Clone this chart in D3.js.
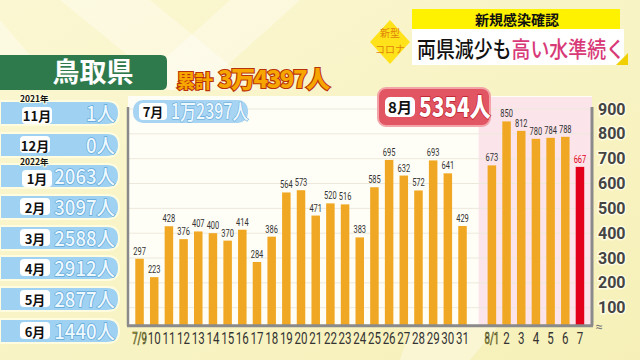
<!DOCTYPE html>
<html><head><meta charset="utf-8">
<script src="https://cdn.jsdelivr.net/npm/d3@7"></script>
<style>html,body{margin:0;padding:0;background:#f8f3c2;}svg{display:block;}</style>
</head><body>
<svg id="c" width="640" height="360"></svg>
<script>
// ---- data ----
const julyDates = ["7/9","10","11","12","13","14","15","16","17","18","19","20","21","22","23","24","25","26","27","28","29","30","31"];
const julyValues = [297,223,428,376,407,400,370,414,284,386,564,573,471,520,516,383,585,695,632,572,693,641,429];
const augDates = ["8/1","2","3","4","5","6","7"];
const augValues = [673,850,812,780,784,788,667];
const yTicks = [100,200,300,400,500,600,700,800,900];
const monthLabels = ["11月","12月","1月","2月","3月","4月","5月","6月"];
const monthTotals = ["1人","0人","2063人","3097人","2588人","2912人","2877人","1440人"];
const yearLabels = ["2021年","","2022年","","","","",""];
const prefName = "鳥取県";
const cumLabel = "累計";
const cumTotal = "3万4397人";
const julyTotal = "1万2397人";
const augTotal = "5354人";
const titleTop = "新規感染確認";
const titleA = "両県減少も";
const titleB = "高い水準続く";

const JP = "'Noto Sans CJK JP','Noto Sans',sans-serif";
const NUM = "Roboto,'Noto Sans',sans-serif";
const svg = d3.select("#c");

// background
const defs = svg.append("defs");
const g0 = defs.append("linearGradient").attr("id","bg").attr("x1",0).attr("y1",0).attr("x2",1).attr("y2",1);
g0.append("stop").attr("offset","0%").attr("stop-color","#fbf7d2");
g0.append("stop").attr("offset","100%").attr("stop-color","#f6f0b8");
svg.append("rect").attr("width",640).attr("height",360).attr("fill","url(#bg)");
[[ [60,0],[150,0],[260,90],[170,90] ],[ [230,0],[300,0],[200,90],[130,90] ],[ [0,20],[60,90],[0,90] ],[ [420,300],[520,300],[470,360],[400,360] ]].forEach(p=>{
  svg.append("polygon").attr("points",p.map(d=>d.join(",")).join(" ")).attr("fill","#ffffff").attr("opacity",0.35);
});

// ---- chart ----
const allDates = julyDates.concat(["gap"], augDates);
const x = d3.scaleBand().domain(allDates).range([132.2, 587.3]).paddingInner(0.42).paddingOuter(0.21);
const y = d3.scaleLinear().domain([27.5, 900]).range([325.7, 109]);
const left = 128, right = 592, base = y(27.5);

// panel
svg.append("rect").attr("x",left).attr("y",96).attr("width",right-left).attr("height",base-96).attr("fill","#fffef6");
svg.append("rect").attr("x",x("8/1")-9).attr("y",97).attr("width",right-(x("8/1")-9)).attr("height",base-97).attr("fill","#fbe4ea");
// gridlines
svg.append("g").selectAll("line").data(yTicks).join("line")
  .attr("x1",left).attr("x2",right).attr("y1",d=>y(d)).attr("y2",d=>y(d))
  .attr("stroke","#ece8dc").attr("stroke-width",1);

const bars = julyDates.map((d,i)=>({d, v: julyValues[i], red:false}))
  .concat(augDates.map((d,i)=>({d, v: augValues[i], red: i===augDates.length-1})));

svg.append("g").selectAll("rect").data(bars).join("rect")
  .attr("x",d=>x(d.d)).attr("width",x.bandwidth())
  .attr("y",d=>y(d.v)).attr("height",d=>base-y(d.v))
  .attr("fill",d=>d.red?"#e3001b":"#f0a824");

svg.append("g").selectAll("text").data(bars).join("text")
  .attr("transform",d=>`translate(${x(d.d)+x.bandwidth()/2},${y(d.v)-4}) scale(0.68,1)`)
  .attr("text-anchor","middle").attr("font-family",NUM).attr("font-size",11)
  .attr("fill",d=>d.red?"#e3001b":"#333").text(d=>d.v);

// axes lines
svg.append("line").attr("x1",left).attr("x2",left).attr("y1",107).attr("y2",base).attr("stroke","#8a8a8a").attr("stroke-width",2.5);
svg.append("line").attr("x1",left-1).attr("x2",right+1).attr("y1",base).attr("y2",base).attr("stroke","#8a8a8a").attr("stroke-width",3);

// right axis via d3
const yAxis = d3.axisRight(y).tickValues(yTicks).tickSize(0).tickPadding(6);
const ya = svg.append("g").attr("transform",`translate(${right},0)`).call(yAxis);
ya.select(".domain").attr("d",`M0,107V${base}`).attr("stroke","#8a8a8a").attr("stroke-width",3);
ya.selectAll("text").attr("font-family",NUM).attr("font-weight","bold").attr("font-size",16).attr("fill","#444")
  .attr("stroke","#fffbe0").attr("stroke-width",3).attr("paint-order","stroke");
svg.append("text").attr("x",right+7).attr("y",base+5).attr("text-anchor","middle").attr("font-family",NUM)
  .attr("font-size",13).attr("fill","#777").text("≈");

// x labels
svg.append("g").selectAll("text").data(bars).join("text")
  .attr("transform",d=>`translate(${x(d.d)+x.bandwidth()/2},${344}) scale(${d.d.includes("/")?0.6:0.72},1)`)
  .attr("text-anchor","middle").attr("font-family",NUM).attr("font-size",16)
  .attr("fill",d=>d.d.includes("/")?"#a8a820":"#333")
  .attr("stroke",d=>d.d.includes("/")?"#333":"none").attr("stroke-width",0.6)
  .text(d=>d.d);

// ---- header ----
svg.append("path").attr("d","M0,55H161Q167,55 167,61V84Q167,90 161,90H0Z").attr("fill","#2f7a4c");
svg.append("text").attr("x",93).attr("y",82).attr("text-anchor","middle").attr("font-family",JP)
  .attr("font-weight","bold").attr("font-size",27).attr("fill","#fff").text(prefName);
const cum = svg.append("text").attr("x",177).attr("y",88).attr("font-family",JP).attr("font-weight","900")
  .attr("fill","#f7a600").attr("stroke","#b8320a").attr("stroke-width",2.2).attr("paint-order","stroke");
cum.append("tspan").attr("font-size",18).text(cumLabel);
cum.append("tspan").attr("dx",5).attr("font-size",24).attr("letter-spacing",-1.5).text(cumTotal);

// title
svg.append("rect").attr("x",412).attr("y",9).attr("width",208).attr("height",20).attr("fill","#fff200");
svg.append("text").attr("x",517).attr("y",25).attr("text-anchor","middle").attr("font-family",JP).attr("font-weight","bold")
  .attr("font-size",14).attr("fill","#111").text(titleTop);
svg.append("rect").attr("x",412).attr("y",29).attr("width",212).attr("height",36).attr("fill","#fff");
svg.append("path").attr("d","M616,65L628,53L628,65Z").attr("fill","#f0d000");
const tt = svg.append("text").attr("transform","translate(417,57) scale(0.86,1)").attr("font-family",JP).attr("font-weight","500").attr("font-size",22);
tt.append("tspan").attr("fill","#111").text(titleA);
tt.append("tspan").attr("fill","#d83a78").text(titleB);
svg.append("path").attr("d","M390,20L410,42L390,64L370,42Z").attr("fill","#ffe21a");
svg.append("text").attr("x",390).attr("y",37).attr("text-anchor","middle").attr("font-family",JP).attr("font-size",10).attr("fill","#e0820a").text("新型");
svg.append("text").attr("x",390).attr("y",53).attr("text-anchor","middle").attr("font-family",JP).attr("font-size",10).attr("fill","#e0820a").text("コロナ");

// ---- left month list ----
const rowY = [113,145,176,207,238,268,299,331];
const rows = svg.append("g").selectAll("g").data(monthLabels).join("g")
  .attr("transform",(d,i)=>`translate(0,${rowY[i]})`);
rows.append("path").attr("d","M0,-12H107Q119,-12 119,0Q119,12 107,12H0Z").attr("fill","#9fd2f2")
  .attr("stroke","#fffce0").attr("stroke-width",2);
rows.append("rect").attr("x",(d,i)=>yearLabels[i]?22:20).attr("y",(d,i)=>yearLabels[i]?-6:-9).attr("width",30).attr("height",17).attr("rx",4).attr("fill","#fff");
rows.append("text").attr("x",(d,i)=>yearLabels[i]?37:35).attr("y",(d,i)=>yearLabels[i]?8:6).attr("text-anchor","middle").attr("font-family",JP).attr("font-weight","bold")
  .attr("font-size",13).attr("fill","#111").text(d=>d);
rows.append("text").attr("transform","translate(115,8) scale(0.95,1)").attr("text-anchor","end").attr("font-family",JP)
  .attr("font-weight","500").attr("font-size",19.5).attr("fill","#eef8ff").attr("stroke","#5fa8d8").attr("stroke-width",1.3)
  .attr("paint-order","stroke").text((d,i)=>monthTotals[i]);
rows.append("text").attr("x",20).attr("y",-11).attr("font-family",JP).attr("font-weight","bold").attr("font-size",8.5)
  .attr("fill","#111").attr("stroke","#fffce0").attr("stroke-width",2).attr("paint-order","stroke").text((d,i)=>yearLabels[i]);

// ---- month boxes in chart ----
svg.append("rect").attr("x",133).attr("y",100).attr("width",115).attr("height",23).attr("rx",10).attr("fill","#a6d4f2");
svg.append("rect").attr("x",139).attr("y",103).attr("width",28).attr("height",17).attr("rx",4).attr("fill","#fff");
svg.append("text").attr("x",153).attr("y",117).attr("text-anchor","middle").attr("font-family",JP).attr("font-weight","bold").attr("font-size",13).attr("fill","#111").text("7月");
svg.append("text").attr("transform","translate(171,119) scale(0.76,1)").attr("font-family",JP).attr("font-weight","500").attr("font-size",21)
  .attr("fill","#eef8ff").attr("stroke","#5fa8d8").attr("stroke-width",1.2).attr("paint-order","stroke").text(julyTotal);

svg.append("rect").attr("x",378).attr("y",88).attr("width",112).attr("height",38).attr("rx",8).attr("fill","#e25562").attr("stroke","#f2a4a8").attr("stroke-width",2);
svg.append("rect").attr("x",385).attr("y",97).attr("width",30).attr("height",20).attr("rx",5).attr("fill","#fff");
svg.append("text").attr("x",400).attr("y",113).attr("text-anchor","middle").attr("font-family",JP).attr("font-weight","bold").attr("font-size",15).attr("fill","#111").text("8月");
svg.append("text").attr("transform","translate(419,117) scale(0.8,1)").attr("font-family",JP).attr("font-weight","900").attr("font-size",26)
  .attr("fill","#fff").attr("stroke","#c0202e").attr("stroke-width",1.5).attr("paint-order","stroke").text(augTotal);
</script>
</body></html>
